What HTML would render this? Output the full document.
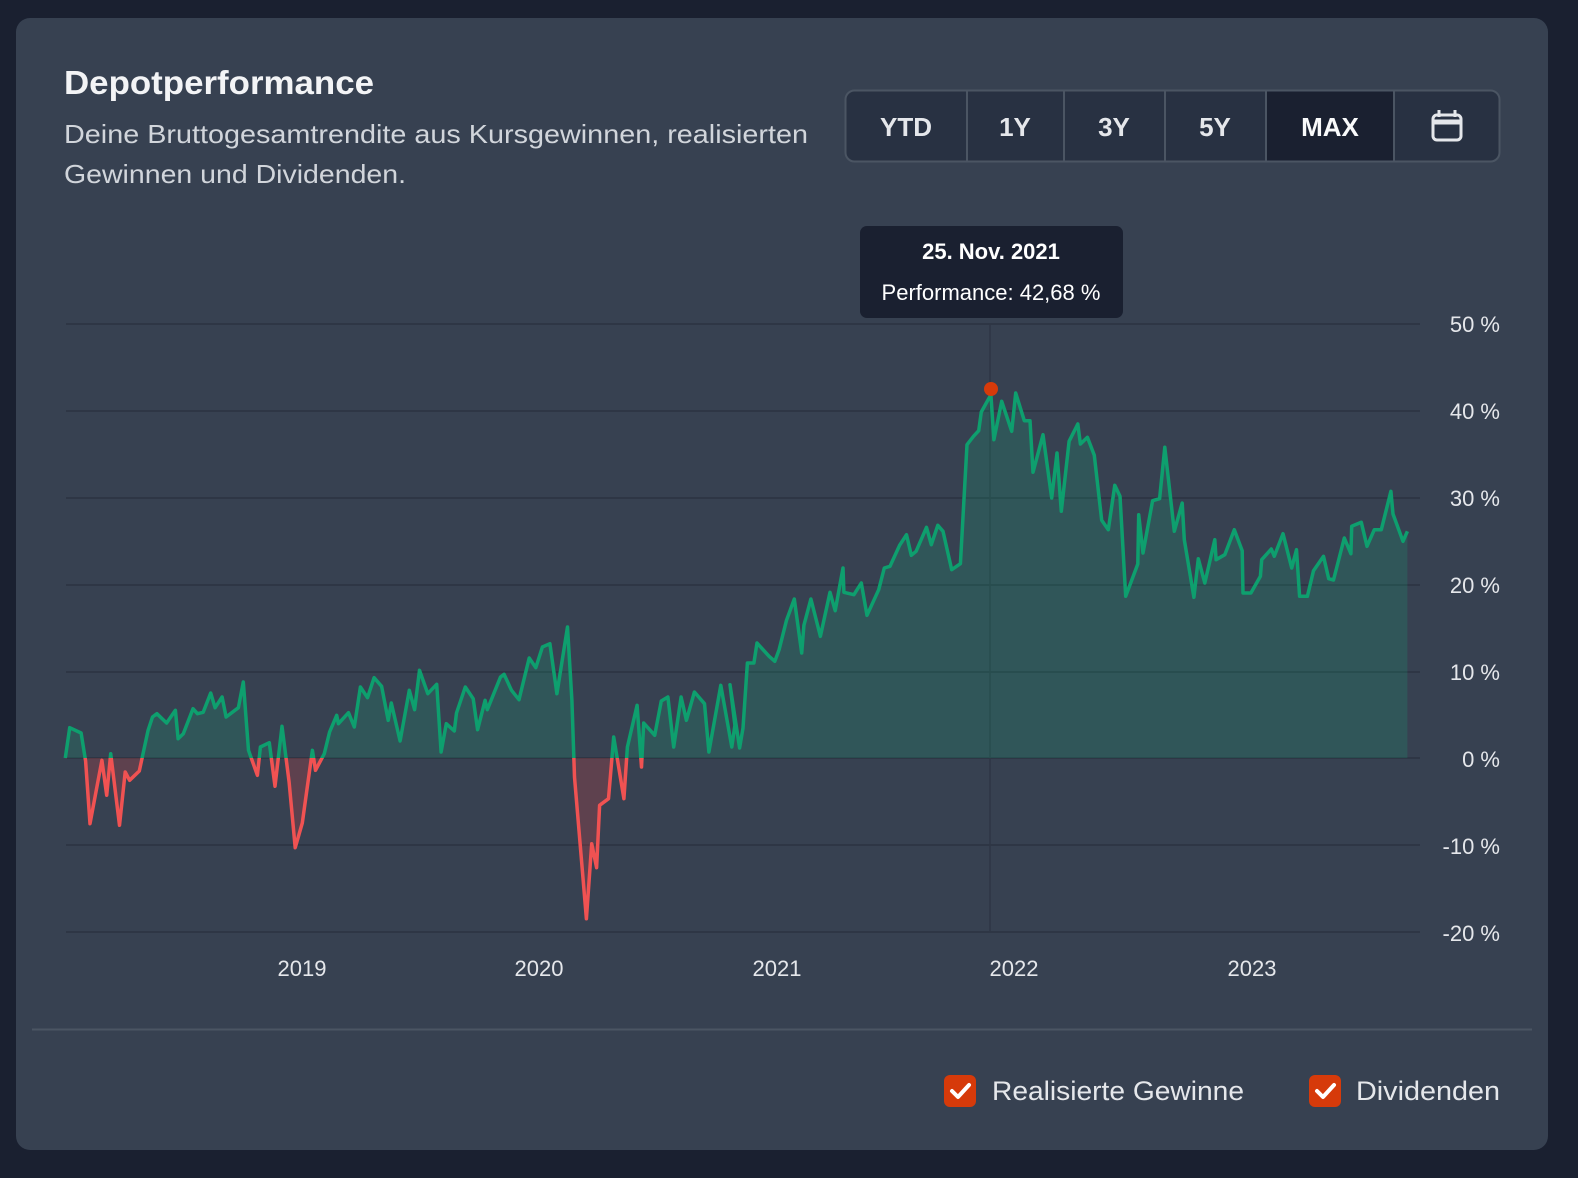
<!DOCTYPE html>
<html><head><meta charset="utf-8"><style>
html,body{margin:0;padding:0;background:#1a2030;width:1578px;height:1178px;overflow:hidden}
svg{display:block}
text{font-family:"Liberation Sans",sans-serif}
</style></head><body>
<svg id="s" width="1578" height="1178" viewBox="0 0 1578 1178" xmlns="http://www.w3.org/2000/svg">
<defs>
<clipPath id="up"><rect x="0" y="0" width="1578" height="758"/></clipPath>
<clipPath id="dn"><rect x="0" y="758" width="1578" height="400"/></clipPath>
<clipPath id="bt"><rect x="845" y="90" width="655" height="72" rx="9"/></clipPath>
</defs>
<rect x="0" y="0" width="1578" height="1178" fill="#1a2030"/>
<rect x="16" y="18" width="1532" height="1132" rx="14" fill="#374151"/>
<text x="64" y="94" font-size="33" font-weight="bold" fill="#f3f4f6" textLength="310" lengthAdjust="spacingAndGlyphs">Depotperformance</text>
<text x="64" y="143" font-size="26" fill="#d1d5db" textLength="744" lengthAdjust="spacingAndGlyphs">Deine Bruttogesamtrendite aus Kursgewinnen, realisierten</text>
<text x="64" y="183" font-size="26" fill="#d1d5db" textLength="342" lengthAdjust="spacingAndGlyphs">Gewinnen und Dividenden.</text>
<g clip-path="url(#bt)">
<rect x="845" y="90" width="655" height="72" fill="#283142"/>
<rect x="1266" y="90" width="127" height="72" fill="#1a2030"/>
</g>
<rect x="845.5" y="90.5" width="654" height="71" rx="9" fill="none" stroke="#4b5563" stroke-width="2"/>
<g stroke="#4b5563" stroke-width="2">
<line x1="967" y1="91" x2="967" y2="161"/><line x1="1064" y1="91" x2="1064" y2="161"/>
<line x1="1165" y1="91" x2="1165" y2="161"/><line x1="1266" y1="91" x2="1266" y2="161"/>
<line x1="1394" y1="91" x2="1394" y2="161"/></g>
<g font-size="26" font-weight="bold" fill="#e5e7eb" text-anchor="middle">
<text x="906" y="136">YTD</text><text x="1015" y="136">1Y</text><text x="1114" y="136">3Y</text>
<text x="1215" y="136">5Y</text><text x="1330" y="136" fill="#f9fafb">MAX</text></g>
<rect x="1433" y="115" width="28" height="25" rx="4" fill="none" stroke="#e5e7eb" stroke-width="3"/>
<line x1="1433" y1="122" x2="1461" y2="122" stroke="#e5e7eb" stroke-width="5"/>
<line x1="1439" y1="110" x2="1439" y2="117" stroke="#e5e7eb" stroke-width="3"/>
<line x1="1455" y1="110" x2="1455" y2="117" stroke="#e5e7eb" stroke-width="3"/>
<g id="grid" stroke="#2e3645" stroke-width="2"></g>
<line x1="990" y1="324" x2="990" y2="932" stroke="#2e3645" stroke-width="1.5"/>
<g id="chart"></g>
<circle cx="991" cy="389" r="7" fill="#d63a0a"/>
<g font-size="22" fill="#e5e7eb" text-anchor="end">
<text x="1500" y="332">50 %</text><text x="1500" y="419">40 %</text><text x="1500" y="506">30 %</text>
<text x="1500" y="593">20 %</text><text x="1500" y="680">10 %</text><text x="1500" y="767">0 %</text>
<text x="1500" y="854">-10 %</text><text x="1500" y="941">-20 %</text></g>
<g font-size="22" fill="#e5e7eb" text-anchor="middle">
<text x="302" y="976">2019</text><text x="539" y="976">2020</text><text x="777" y="976">2021</text>
<text x="1014" y="976">2022</text><text x="1252" y="976">2023</text></g>
<rect x="860" y="226" width="263" height="92" rx="7" fill="#1a2030"/>
<text x="991" y="259" font-size="22" font-weight="bold" fill="#fff" text-anchor="middle">25. Nov. 2021</text>
<text x="991" y="300" font-size="22" fill="#fff" text-anchor="middle">Performance: 42,68 %</text>
<line x1="32" y1="1029.5" x2="1532" y2="1029.5" stroke="#4b5563" stroke-width="2"/>
<rect x="944" y="1075" width="32" height="32" rx="6" fill="#d63a0a"/>
<path d="M952 1091 l6 6 l11 -12" fill="none" stroke="#fff" stroke-width="4" stroke-linecap="round" stroke-linejoin="round"/>
<text x="992" y="1100" font-size="27" fill="#e5e7eb" textLength="252" lengthAdjust="spacingAndGlyphs">Realisierte Gewinne</text>
<rect x="1309" y="1075" width="32" height="32" rx="6" fill="#d63a0a"/>
<path d="M1317 1091 l6 6 l11 -12" fill="none" stroke="#fff" stroke-width="4" stroke-linecap="round" stroke-linejoin="round"/>
<text x="1356" y="1100" font-size="27" fill="#e5e7eb" textLength="144" lengthAdjust="spacingAndGlyphs">Dividenden</text>
</svg>
<script>
var g=document.getElementById('grid');
[324,411,498,585,672,758,845,932].forEach(function(y){var l=document.createElementNS('http://www.w3.org/2000/svg','line');l.setAttribute('x1',66);l.setAttribute('x2',1420);l.setAttribute('y1',y);l.setAttribute('y2',y);g.appendChild(l);});
var a=[12,485,22,392,48,408,58,492,68,680,95,490,106,595,115,470,135,685,148,525,158,550,180,522,200,400,210,360,220,350,242,378,262,340,268,425,280,410,302,335,312,350,325,346,342,288,352,332,368,300,377,360,405,332,416,255,428,460,448,535,455,450,475,437,488,568,504,388,520,555,534,752,550,678,573,460,580,520,600,470,612,405,628,355,632,380,655,347,668,390,682,270,698,302,713,242,730,268,745,370,752,318,772,432,793,280,805,338,816,220,835,290,855,262,865,465,877,380,895,402,900,348,920,270,938,305,948,398,965,310,970,338,1000,240,1008,232,1025,280,1042,308,1065,183,1080,212,1095,150,1112,140,1128,290,1152,90,1162,310,1168,540,1195,965,1207,740,1218,812,1225,625,1245,605,1257,420,1280,605,1288,450,1310,325,1320,510,1325,378,1350,415,1365,312,1380,300,1393,450,1410,300,1422,370,1440,285,1463,320,1473,465,1500,265,1525,450,1532,385,1542,197,1558,197];
var b=[0,950,22,1140,30,1080,40,885,55,885,62,825,90,865,103,880,113,845,130,757,148,693,165,855,170,772,186,693,208,805,230,673,242,728,260,600,262,673,285,680,302,645,315,742,342,665,355,600,368,595,390,532,406,500,417,562,428,550,452,478,463,530,478,472,490,490,510,605,530,587,545,230,560,205,572,188,578,132,600,80,607,215,625,100,648,190,657,75,677,158,690,158,697,313,720,200,740,390,752,255,762,430,780,220,800,168,806,228,822,208,838,262,855,457,870,485,885,352,897,385,910,685,938,588,940,440,950,555,972,398,988,392,1000,238,1022,490,1040,405,1045,515,1067,688,1077,572,1092,645,1115,515,1118,575,1138,560,1160,485,1178,548,1180,675,1198,675,1220,625,1223,575,1245,543,1252,565,1272,497,1292,600,1303,545,1310,685,1328,685,1342,608,1365,565,1377,632,1388,636,1413,510,1428,557,1430,475,1452,463,1465,535,1482,485,1498,485,1520,370,1525,438,1548,520,1558,490];
var pts=[];
for(var i=0;i<a.length;i+=2){var x=60+a[i]/2.27,y=597+a[i+1]/3;if(x<738)pts.push([x,y]);}
for(var i=0;i<b.length;i+=2){pts.push([730+b[i]/2.3,368+b[i+1]/3]);}
pts[0][1]=758;
var d=pts.map(function(p,i){return (i?'L':'M')+p[0].toFixed(1)+' '+p[1].toFixed(1)}).join(' ');
var area=d+' L'+pts[pts.length-1][0].toFixed(1)+' 758 L'+pts[0][0].toFixed(1)+' 758 Z';
document.getElementById('chart').innerHTML=
'<path d="'+area+'" fill="#10b981" fill-opacity="0.18" clip-path="url(#up)"/>'+
'<path d="'+area+'" fill="#ef4444" fill-opacity="0.22" clip-path="url(#dn)"/>'+
'<path d="'+d+'" fill="none" stroke="#0e9f6e" stroke-width="3.5" stroke-linejoin="round" clip-path="url(#up)"/>'+
'<path d="'+d+'" fill="none" stroke="#f05252" stroke-width="3.5" stroke-linejoin="round" clip-path="url(#dn)"/>';
</script>
</body></html>
